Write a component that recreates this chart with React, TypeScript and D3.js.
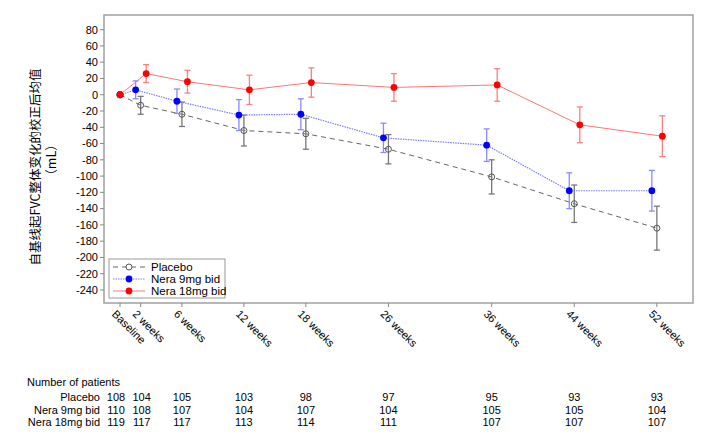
import React from "react";
import { scaleLinear, line, range } from "d3";

const weeks = [0, 2, 6, 12, 18, 26, 36, 44, 52];
const xLabels = ["Baseline", "2 weeks", "6 weeks", "12 weeks", "18 weeks", "26 weeks", "36 weeks", "44 weeks", "52 weeks"];
const yTicks = range(-240, 81, 20);

const placeboMean = [0, -13, -24, -44, -48, -67, -101, -134, -164];
const placeboErr = [0, 11, 15, 19, 19, 18, 21, 23, 27];
const nera9Mean = [0, 6, -8, -25, -24, -53, -62, -118, -118];
const nera9Err = [0, 11, 15, 19, 19, 18, 20, 22, 25];
const nera18Mean = [0, 26, 16, 6, 15, 9, 12, -37, -51];
const nera18Err = [0, 11, 14, 18, 18, 17, 20, 22, 25];

const placeboN = [108, 104, 105, 103, 98, 97, 95, 93, 93];
const nera9N = [110, 108, 107, 104, 107, 104, 105, 105, 104];
const nera18N = [119, 117, 117, 113, 114, 111, 107, 107, 107];

const seriesNames = ["Placebo", "Nera 9mg bid", "Nera 18mg bid"];

const margin = { top: 15, right: 23, bottom: 137, left: 104 };
const W = 716;
const H = 440;

export default function App() {
  const x = scaleLinear().domain([-1.55, 55.5]).range([margin.left, W - margin.right]);
  const y = scaleLinear().domain([-256, 98]).range([H - margin.bottom, margin.top]);

  const series = [
    { name: seriesNames[0], mean: placeboMean, err: placeboErr, n: placeboN, dx: 0, line: "#666", bar: "#777", dash: "5,4", width: 1, open: true, dot: "#555" },
    { name: seriesNames[1], mean: nera9Mean, err: nera9Err, n: nera9N, dx: -5, line: "#7b7bff", bar: "#8a8aff", dash: "1.5,1", width: 1.2, open: false, dot: "#0000ff" },
    { name: seriesNames[2], mean: nera18Mean, err: nera18Err, n: nera18N, dx: 5.5, line: "#ff7676", bar: "#ff7e7e", dash: "", width: 1, open: false, dot: "#ff0000" },
  ];

  const font = "Liberation Sans, Arial, sans-serif";
  const narrow = "Liberation Sans Narrow, Liberation Sans, Arial, sans-serif";

  return (
    <svg width={W} height={H} style={{ position: "absolute", left: 0, top: 0, background: "#fff" }}>
      {/* frame */}
      <rect x={margin.left} y={margin.top} width={W - margin.left - margin.right} height={H - margin.top - margin.bottom} fill="none" stroke="#a0a0a0" strokeWidth={1.5} />

      {/* y axis */}
      {yTicks.map((t) => (
        <g key={t} transform={`translate(${margin.left},${y(t)})`}>
          <line x1={-4} x2={0} stroke="#888" />
          <text x={-6} dy="0.35em" textAnchor="end" fontSize={11} fontFamily={font} fill="#000">{t}</text>
        </g>
      ))}

      {/* x axis */}
      {weeks.map((w, i) => (
        <g key={w} transform={`translate(${x(w)},${H - margin.bottom})`}>
          <line y1={0} y2={4} stroke="#888" />
          <text transform="translate(-6,9) rotate(45)" dy="0.35em" textAnchor="start" fontSize={11} fontFamily={font} fill="#000">{xLabels[i]}</text>
        </g>
      ))}

      {/* y label */}
      <text transform={`translate(40,${167}) rotate(-90)`} textAnchor="middle" fontSize={12.5} fontFamily="Noto Sans CJK SC, sans-serif" fill="#000">自基线起FVC整体变化的校正后均值</text>
      <text transform={`translate(56,${160}) rotate(-90)`} textAnchor="middle" fontSize={12.5} fontFamily="Noto Sans CJK SC, sans-serif" fill="#000">（mL）</text>

      {/* series */}
      {series.map((s) => {
        const px = (i: number) => x(weeks[i]) + (i === 0 ? 0 : s.dx);
        const path = line<number>()
          .x((_, i) => px(i))
          .y((d) => y(d))(s.mean);
        return (
          <g key={s.name}>
            <path d={path || ""} fill="none" stroke={s.line} strokeWidth={s.width} strokeDasharray={s.dash} />
            {s.mean.map((m, i) =>
              i === 0 ? null : (
                <g key={i} stroke={s.bar} strokeWidth={1.3}>
                  <line x1={px(i)} x2={px(i)} y1={y(m + s.err[i])} y2={y(m - s.err[i])} />
                  <line x1={px(i) - 3} x2={px(i) + 3} y1={y(m + s.err[i])} y2={y(m + s.err[i])} />
                  <line x1={px(i) - 3} x2={px(i) + 3} y1={y(m - s.err[i])} y2={y(m - s.err[i])} />
                </g>
              )
            )}
            {s.mean.map((m, i) => (
              <circle key={i} cx={px(i)} cy={y(m)} r={s.open ? 3 : 3.4} fill={s.open ? "none" : s.dot} stroke={s.dot} strokeWidth={s.open ? 1 : 0} />
            ))}
          </g>
        );
      })}

      {/* legend */}
      <g transform="translate(109,259)">
        <rect width={116} height={39} fill="#fff" stroke="#999" />
        {series.map((s, i) => (
          <g key={s.name} transform={`translate(0,${8 + i * 12})`}>
            <line x1={4} x2={36} stroke={s.line} strokeWidth={s.width} strokeDasharray={s.dash} />
            <circle cx={20} cy={0} r={s.open ? 3 : 3.4} fill={s.open ? "#fff" : s.dot} stroke={s.dot} strokeWidth={s.open ? 1 : 0} />
            <text x={42} dy="0.35em" fontSize={11.5} fontFamily={font} fill="#000">{s.name}</text>
          </g>
        ))}
      </g>

      {/* patient table */}
      <text x={27} y={386} fontSize={11} fontFamily={narrow} fill="#000">Number of patients</text>
      {series.map((s, r) => (
        <g key={s.name} transform={`translate(0,${401 + r * 12.7})`}>
          <text x={100} textAnchor="end" fontSize={11} fontFamily={narrow} fill="#000">{s.name}</text>
          {s.n.map((v, i) => (
            <text key={i} x={x(weeks[i]) + (i === 0 ? -4 : i === 1 ? 1 : 0)} textAnchor="middle" fontSize={11} fontFamily={narrow} fill="#000">{v}</text>
          ))}
        </g>
      ))}
    </svg>
  );
}
